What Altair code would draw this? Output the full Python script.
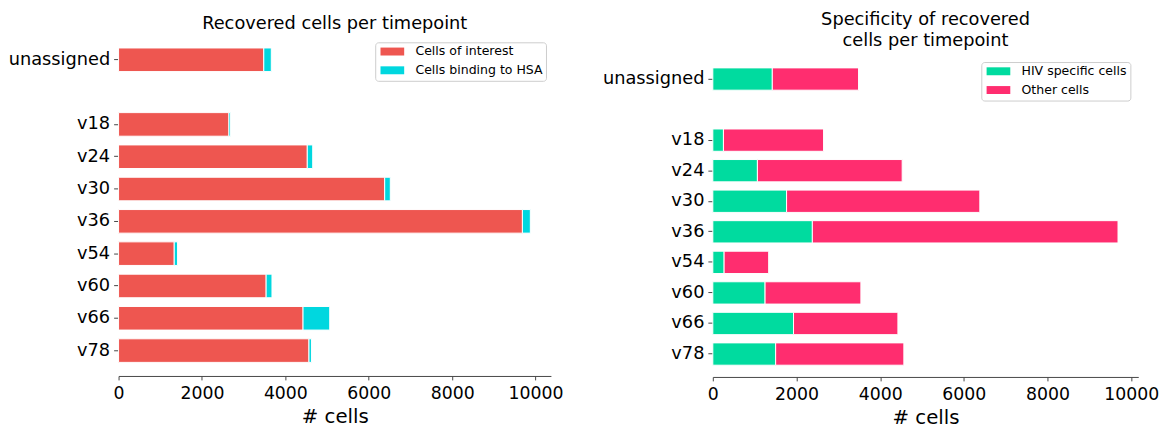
import altair as alt
import pandas as pd

# ---- data ----
timepoints = ["unassigned", "v18", "v24", "v30", "v36", "v54", "v60", "v66", "v78"]
cells_of_interest = [3483, 2647, 4526, 6382, 9685, 1335, 3539, 4424, 4566]
cells_hsa = [180, 40, 130, 135, 190, 80, 140, 640, 60]
hiv_specific = [1422, 254, 1066, 1763, 2379, 270, 1249, 1929, 1502]
other_cells = [2061, 2393, 3460, 4619, 7306, 1065, 2290, 2495, 3064]
x_ticks = [0, 2000, 4000, 6000, 8000, 10000]

left_series = ["Cells of interest", "Cells binding to HSA"]
left_colors = ["#EE5650", "#00D7DF"]
right_series = ["HIV specific cells", "Other cells"]
right_colors = ["#00DB9F", "#FF2D6F"]

# y order with an empty slot between "unassigned" and the visits
y_domain = ["unassigned", " "] + timepoints[1:]

FONT = "DejaVu Sans"

rows_l = []
for t, a, b in zip(timepoints, cells_of_interest, cells_hsa):
    rows_l.append({"tp": t, "series": left_series[0], "n": a, "o": 0})
    rows_l.append({"tp": t, "series": left_series[1], "n": b, "o": 1})
df_l = pd.DataFrame(rows_l)

rows_r = []
for t, a, b in zip(timepoints, hiv_specific, other_cells):
    rows_r.append({"tp": t, "series": right_series[0], "n": a, "o": 0})
    rows_r.append({"tp": t, "series": right_series[1], "n": b, "o": 1})
df_r = pd.DataFrame(rows_r)

max_l = max(a + b for a, b in zip(cells_of_interest, cells_hsa)) * 1.05
max_r = max(a + b for a, b in zip(hiv_specific, other_cells)) * 1.05

rect_path = "M-2,-0.67H2V0.67H-2Z"


def panel(df, series, colors, xmax, title, title_dy, width, height,
          p_outer, y_align, lx, ly):
    y_scale = alt.Scale(domain=y_domain, paddingInner=0.27,
                        paddingOuter=p_outer, align=y_align)
    return alt.Chart(df, title=alt.Title(title, font=FONT, fontSize=18,
                                         fontWeight="normal", color="#000",
                                         offset=1, dy=title_dy,
                                         lineHeight=22)).mark_bar(
        stroke="white", strokeWidth=1
    ).encode(
        x=alt.X("n:Q", stack="zero",
                scale=alt.Scale(domain=[0, xmax], nice=False, zero=True),
                axis=alt.Axis(title="# cells", values=x_ticks, grid=False,
                              format="d",
                              labelFontSize=17.5, titleFontSize=20,
                              titleFontWeight="normal", labelFont=FONT,
                              titleFont=FONT, labelColor="#000",
                              titleColor="#000", domainColor="#444",
                              tickColor="#444", tickSize=4, labelPadding=5,
                              titlePadding=5, labelFlush=False)),
        y=alt.Y("tp:N", scale=y_scale, sort=y_domain,
                axis=alt.Axis(title=None, values=timepoints, domain=False,
                              grid=False, labelFontSize=18, labelFont=FONT,
                              labelColor="#000", tickColor="#444", tickSize=5,
                              labelPadding=4)),
        color=alt.Color("series:N",
                        scale=alt.Scale(domain=series, range=colors),
                        legend=alt.Legend(title=None, orient="none",
                                          legendX=lx, legendY=ly,
                                          symbolType=rect_path, symbolSize=144,
                                          symbolStrokeWidth=0,
                                          symbolOffset=8,
                                          labelFontSize=12.7, labelFont=FONT,
                                          labelColor="#000",
                                          strokeColor="#cccccc",
                                          fillColor="white", cornerRadius=3,
                                          padding=3, rowPadding=5,
                                          labelOffset=17)),
        order=alt.Order("o:Q"),
        tooltip=["tp", "series", "n"],
    ).properties(width=width, height=height,
                 view=alt.ViewBackground(stroke="transparent", strokeWidth=0))


left = panel(df_l, left_series, left_colors, max_l,
             "Recovered cells per timepoint", 0, 438, 346, 0.42, 0.5, 260, 8)
right = panel(df_r, right_series, right_colors, max_r,
              ["Specificity of recovered", "cells per timepoint"], 17,
              431, 347, 0.74, 0.74, 272, 28)

chart = alt.hconcat(left, right, spacing=39).resolve_scale(
    color="independent", y="independent", x="independent"
).resolve_legend(color="independent").configure_view(
    stroke="transparent", strokeWidth=0
).configure(font=FONT).properties(padding={"left": 0, "top": 0, "right": 0, "bottom": 0})

chart.save("out.html", embed_options={"renderer": "svg", "actions": False})
